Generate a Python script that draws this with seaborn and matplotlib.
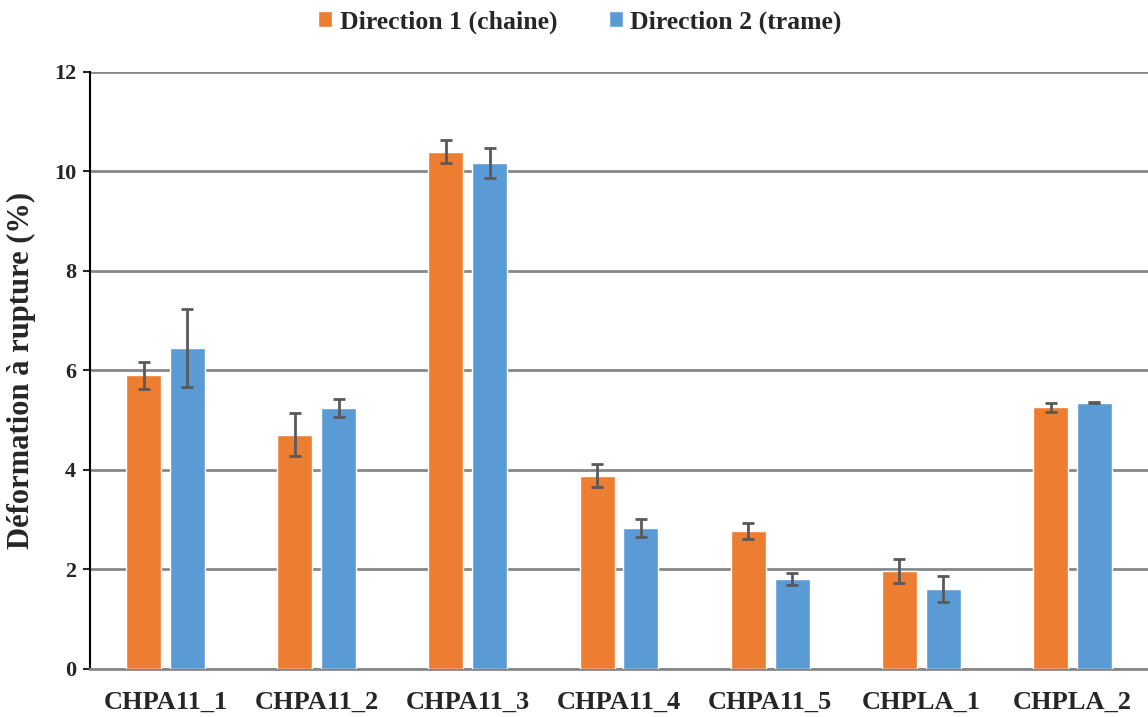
import numpy as np
import pandas as pd
import matplotlib
matplotlib.use("Agg")
import matplotlib.pyplot as plt
import seaborn as sns

categories = ["CHPA11_1", "CHPA11_2", "CHPA11_3", "CHPA11_4", "CHPA11_5", "CHPLA_1", "CHPLA_2"]
series = ["Direction 1 (chaine)", "Direction 2 (trame)"]
dir1_vals = [5.90, 4.71, 10.39, 3.88, 2.77, 1.96, 5.26]
dir1_err = [0.27, 0.44, 0.23, 0.23, 0.16, 0.24, 0.09]
dir2_vals = [6.45, 5.25, 10.16, 2.84, 1.80, 1.60, 5.35]
dir2_err = [0.78, 0.18, 0.30, 0.18, 0.12, 0.26, 0.01]
colors = ["#ED7D31", "#5B9BD5"]

df = pd.DataFrame({
    "cat": categories * 2,
    "serie": [series[0]] * len(categories) + [series[1]] * len(categories),
    "val": dir1_vals + dir2_vals,
    "err": dir1_err + dir2_err,
})

sns.set_style("white")
plt.rcParams["font.family"] = ["Liberation Serif", "DejaVu Serif"]
plt.rcParams["font.weight"] = "bold"

fig = plt.figure(figsize=(11.48, 7.17), dpi=100)
ax = fig.add_axes([0.0784, 0.067, 0.9216, 0.8329])

sns.barplot(data=df, x="cat", y="val", hue="serie", palette=colors, saturation=1,
            width=0.58, gap=0.2, errorbar=None, ax=ax, zorder=3)

# error bars at each bar centre
for cont, errs in zip(ax.containers, [dir1_err, dir2_err]):
    xs = [p.get_x() + p.get_width() / 2 for p in cont.patches]
    ys = [p.get_height() for p in cont.patches]
    ax.errorbar(xs, ys, yerr=errs, fmt="none", ecolor="#595959",
                elinewidth=2, capsize=4.5, capthick=2, zorder=4)

ax.set_ylim(0, 12)
ax.set_xlim(-0.5, 6.5)
ax.set_yticks(np.arange(0, 13, 2))
ax.yaxis.grid(True, color="#878787", linewidth=2, zorder=0)
ax.set_axisbelow(True)
for s in ["top", "right"]:
    ax.spines[s].set_visible(False)
ax.spines["left"].set_color("black")
ax.spines["left"].set_linewidth(1.5)
ax.spines["bottom"].set_color("#878787")
ax.spines["bottom"].set_linewidth(2)
ax.tick_params(axis="y", which="major", left=True, length=5, width=1.5,
               labelsize=16, pad=5)
ax.tick_params(axis="x", bottom=False, labelsize=19, pad=12)
for lab in ax.get_xticklabels() + ax.get_yticklabels():
    lab.set_fontweight("bold")

ax.set_xlabel("")
ax.set_ylabel("Déformation à rupture (%)", fontsize=22, fontweight="bold")
ax.yaxis.set_label_coords(-0.051, 0.5)

ax.legend(loc="upper center", bbox_to_anchor=(0.463, 1.142), ncol=2, frameon=False,
          prop={"size": 18.5, "weight": "bold"}, handlelength=0.55, handleheight=0.55,
          handletextpad=0.3, columnspacing=2.0)

fig.savefig("out.png", dpi=100)
